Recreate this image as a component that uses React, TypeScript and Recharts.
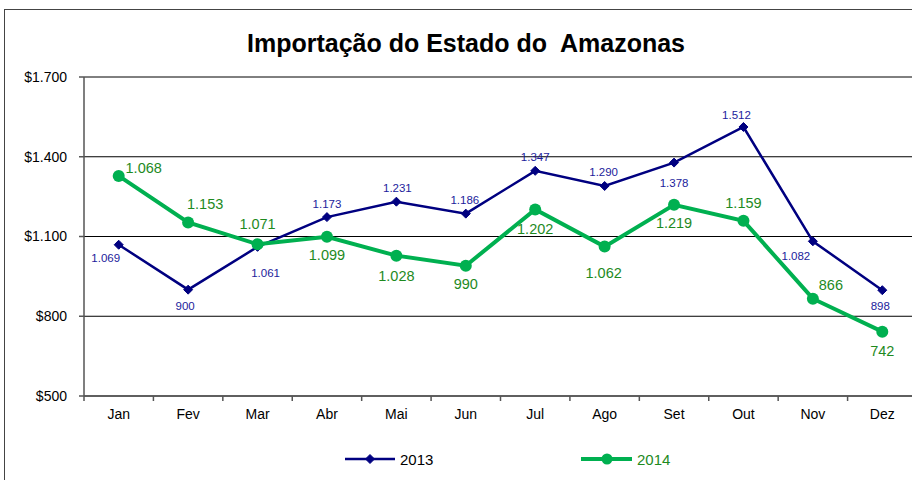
import React from 'react';
import { LineChart, Line, XAxis, YAxis, CartesianGrid, Legend, LabelList } from 'recharts';

const meses = ['Jan', 'Fev', 'Mar', 'Abr', 'Mai', 'Jun', 'Jul', 'Ago', 'Set', 'Out', 'Nov', 'Dez'];
const valores2013 = [1069, 900, 1061, 1173, 1231, 1186, 1347, 1290, 1378, 1512, 1082, 898];
const valores2014 = [1328, 1153, 1071, 1099, 1028, 990, 1202, 1062, 1219, 1159, 866, 742];
// no original o rótulo de Jan/2014 não corresponde ao ponto
const rotulos2014 = ['1.068', '1.153', '1.071', '1.099', '1.028', '990', '1.202', '1.062', '1.219', '1.159', '866', '742'];
const ticksY = [500, 800, 1100, 1400, 1700];

// deslocamento dos rótulos em relação ao ponto
const pos2013 = [[-13, 13], [-3, 16], [8, 26], [0, -13], [1, -14], [-1, -14], [0, -14], [-1, -14], [0, 20], [-7, -12], [-17, 15], [-2, 16]];
const pos2014 = [[25, -8], [17, -18], [0, -20], [0, 18], [0, 20], [0, 18], [0, 20], [-1, 26], [0, 18], [0, -18], [18, -14], [0, 19]];

const data = meses.map((m, i) => ({ mes: m, a2013: valores2013[i], a2014: valores2014[i] }));

const fmt = (n: number) => String(n).replace(/\B(?=(\d{3})+(?!\d))/g, '.');

const FONTE = '"Liberation Sans", Arial, sans-serif';
const AZUL = '#000080';
const VERDE = '#00B050';
const LEFT = 84;
const RIGHT = 917;
const BANDA = (RIGHT - LEFT) / 12;

const Diamante = (props: any) => {
  const { cx, cy } = props;
  if (cx == null || cy == null) return null;
  const s = 4.5;
  return <polygon points={`${cx},${cy - s} ${cx + s},${cy} ${cx},${cy + s} ${cx - s},${cy}`} fill={AZUL} stroke={AZUL} />;
};

const TickMes = (props: any) => {
  const { x, y, payload, index } = props;
  return (
    <g>
      <line x1={x - BANDA / 2} x2={x - BANDA / 2} y1={y} y2={y + 5} stroke="#555" strokeWidth={1.5} />
      {index === meses.length - 1 && (
        <line x1={x + BANDA / 2} x2={x + BANDA / 2} y1={y} y2={y + 5} stroke="#555" strokeWidth={1.5} />
      )}
      <text x={x} y={y + 23} textAnchor="middle" fontSize={14} fontFamily={FONTE} fill="#000">
        {payload.value}
      </text>
    </g>
  );
};

const rotulo = (pos: number[][], cor: string, tam: number, textos?: string[]) => (props: any) => {
  const { x, y, index, value } = props;
  const [dx, dy] = pos[index];
  return (
    <text x={x + dx} y={y + dy} textAnchor="middle" dominantBaseline="central" fontSize={tam} fontFamily={FONTE} fill={cor}>
      {textos ? textos[index] : fmt(value)}
    </text>
  );
};

const Legenda = () => (
  <svg width={930} height={30}>
    <line x1={345} x2={395} y1={14} y2={14} stroke={AZUL} strokeWidth={2.5} />
    <Diamante cx={370} cy={14} />
    <text x={400} y={14} dominantBaseline="central" fontSize={15} fontFamily={FONTE} fill="#000">2013</text>
    <line x1={581} x2={632} y1={14} y2={14} stroke={VERDE} strokeWidth={4} />
    <circle cx={607} cy={14} r={5.5} fill={VERDE} />
    <text x={637} y={14} dominantBaseline="central" fontSize={15} fontFamily={FONTE} fill="#1E8A1E">2014</text>
  </svg>
);

export default function App() {
  return (
    <div style={{ position: 'absolute', left: 0, top: 0, width: 912, height: 480, overflow: 'hidden', background: '#fff' }}>
      <div style={{ position: 'absolute', left: 4, top: 9, width: 1000, height: 600, border: '1.5px solid #444' }} />
      <div
        style={{
          position: 'absolute', left: 0, top: 29, width: 932, textAlign: 'center', whiteSpace: 'pre',
          fontFamily: FONTE, fontWeight: 'bold', fontSize: 25, color: '#000',
        }}
      >
        Importação do Estado do  Amazonas
      </div>
      <div style={{ position: 'absolute', left: 0, top: 0 }}>
        <LineChart width={930} height={480} data={data} margin={{ top: 77, right: 930 - RIGHT, bottom: 20, left: 24 }}>
          <CartesianGrid vertical={false} stroke="#000" strokeWidth={1} />
          <XAxis
            dataKey="mes"
            height={30}
            padding={{ left: BANDA / 2, right: BANDA / 2 }}
            tickLine={false}
            tickSize={0}
            tickMargin={0}
            axisLine={{ stroke: '#555', strokeWidth: 1.5 }}
            tick={<TickMes />}
            interval={0}
          />
          <YAxis
            width={60}
            domain={[500, 1700]}
            ticks={ticksY}
            tickFormatter={(v: number) => '$' + fmt(v)}
            tick={{ fontSize: 14, fontFamily: FONTE, fill: '#000' }}
            tickSize={5}
            tickMargin={12}
            tickLine={{ stroke: '#555', strokeWidth: 1.5 }}
            axisLine={{ stroke: '#555', strokeWidth: 1.5 }}
            allowDataOverflow
          />
          <Legend content={<Legenda />} wrapperStyle={{ position: 'absolute', left: 0, top: 445, width: 930 }} />
          <Line
            dataKey="a2013"
            name="2013"
            stroke={AZUL}
            strokeWidth={2.5}
            dot={<Diamante />}
            isAnimationActive={false}
          >
            <LabelList dataKey="a2013" content={rotulo(pos2013, '#1C1C9C', 11.5)} />
          </Line>
          <Line
            dataKey="a2014"
            name="2014"
            stroke={VERDE}
            strokeWidth={4}
            dot={{ r: 6, fill: VERDE, stroke: VERDE, strokeWidth: 0 }}
            isAnimationActive={false}
          >
            <LabelList dataKey="a2014" content={rotulo(pos2014, '#1E8A1E', 14.5, rotulos2014)} />
          </Line>
        </LineChart>
      </div>
    </div>
  );
}
